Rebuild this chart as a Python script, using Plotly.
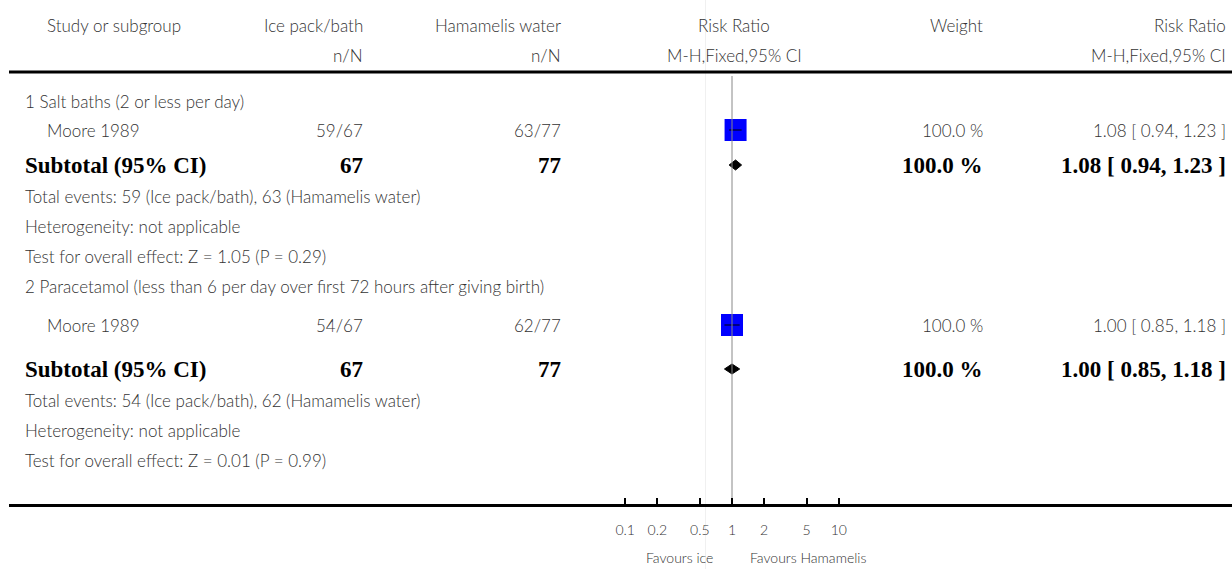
import plotly.graph_objects as go
import numpy as np

# ---------------- data ----------------
group_titles = ["1 Salt baths (2 or less per day)",
                "2 Paracetamol (less than 6 per day over first 72 hours after giving birth)"]
study_names = ["Moore 1989", "Moore 1989"]
ice_events = [59, 54]
ice_totals = [67, 67]
ham_events = [63, 62]
ham_totals = [77, 77]
rr = [1.08, 1.00]
ci_low = [0.94, 0.85]
ci_high = [1.23, 1.18]
weights = [100.0, 100.0]
z_values = ["1.05", "0.01"]
p_values = ["0.29", "0.99"]
tick_vals = [0.1, 0.2, 0.5, 1, 2, 5, 10]
tick_text = ["0.1", "0.2", "0.5", "1", "2", "5", "10"]
label_left = "Favours ice"
label_right = "Favours Hamamelis"

# ---------------- layout helpers ----------------
W, H = 1232, 569
AX_Y = 503.5          # pixel y of the bottom axis line
X_LEFT = 9            # pixel x where the axis / rules start
X_ONE = 732           # pixel x of RR = 1
DEC = 106.8           # pixels per decade
lo_log = (X_LEFT - X_ONE) / DEC
hi_log = (W - X_ONE) / DEC

# row centres (pixels from top) for each group block
group_rows = [dict(title=101, study=130, sub=165, tot=196, het=226, test=256),
              dict(title=286, study=325, sub=369, tot=400, het=430, test=460)]

REG = dict(family="Lato", size=17, color="#333333", weight=300)
BOLD = dict(family="Liberation Serif", size=23, color="#000000", weight="bold")
SMALL = dict(family="Lato", size=14, color="#333333", weight=300)

COL_STUDY = 45 / W
COL_LEFT = 23 / W
COL_ICE = 365 / W
COL_HAM = 563 / W
COL_RR = 734 / W
COL_W = 985 / W
COL_RRT = 1228 / W

fig = go.Figure()
ann = []


def txt(x, y, s, font, anchor="left"):
    ann.append(dict(x=x, y=y, xref="paper", yref="y", text=s, showarrow=False,
                    xanchor=anchor, yanchor="middle", font=font))


# header
txt(COL_STUDY, 25, "Study or subgroup", REG)
txt(COL_ICE, 25, "Ice pack/bath", REG, "right")
txt(COL_ICE, 55, "n/N", REG, "right")
txt(COL_HAM, 25, "Hamamelis water", REG, "right")
txt(COL_HAM, 55, "n/N", REG, "right")
txt(COL_RR, 25, "Risk Ratio", REG, "center")
txt(COL_RR, 55, "M-H,Fixed,95% CI", REG, "center")
txt(COL_W, 25, "Weight", REG, "right")
txt(COL_RRT, 25, "Risk Ratio", REG, "right")
txt(COL_RRT, 55, "M-H,Fixed,95% CI", REG, "right")

for i in range(len(study_names)):
    r = group_rows[i]
    txt(COL_LEFT, r["title"], group_titles[i], REG)
    txt(COL_STUDY, r["study"], study_names[i], REG)
    txt(COL_ICE, r["study"], f"{ice_events[i]}/{ice_totals[i]}", REG, "right")
    txt(COL_HAM, r["study"], f"{ham_events[i]}/{ham_totals[i]}", REG, "right")
    txt(COL_W, r["study"], f"{weights[i]:.1f} %", REG, "right")
    txt(COL_RRT, r["study"], f"{rr[i]:.2f} [ {ci_low[i]:.2f}, {ci_high[i]:.2f} ]", REG, "right")

    txt(COL_LEFT, r["sub"], "Subtotal (95% CI)", BOLD)
    txt(COL_ICE, r["sub"], f"{ice_totals[i]}", BOLD, "right")
    txt(COL_HAM, r["sub"], f"{ham_totals[i]}", BOLD, "right")
    txt(COL_W, r["sub"], f"{weights[i]:.1f} %", BOLD, "right")
    txt(COL_RRT, r["sub"], f"{rr[i]:.2f} [ {ci_low[i]:.2f}, {ci_high[i]:.2f} ]", BOLD, "right")

    txt(COL_LEFT, r["tot"], f"Total events: {ice_events[i]} (Ice pack/bath), {ham_events[i]} (Hamamelis water)", REG)
    txt(COL_LEFT, r["het"], "Heterogeneity: not applicable", REG)
    txt(COL_LEFT, r["test"], f"Test for overall effect: Z = {z_values[i]} (P = {p_values[i]})", REG)

    # study square
    fig.add_trace(go.Scatter(x=[rr[i]], y=[r["study"]], mode="markers",
                             marker=dict(symbol="square", size=22, color="#0000FF",
                                         line=dict(width=0)),
                             showlegend=False, hoverinfo="skip"))
    # CI line
    fig.add_trace(go.Scatter(x=[ci_low[i], ci_high[i]], y=[r["study"], r["study"]],
                             mode="lines", line=dict(color="#000000", width=1),
                             showlegend=False, hoverinfo="skip"))
    # subtotal diamond
    yc = r["sub"]
    fig.add_trace(go.Scatter(x=[ci_low[i], rr[i], ci_high[i], rr[i], ci_low[i]],
                             y=[yc, yc - 5, yc, yc + 5, yc], mode="lines",
                             fill="toself", fillcolor="#000000",
                             line=dict(color="#000000", width=1),
                             showlegend=False, hoverinfo="skip"))

# line of no effect
fig.add_trace(go.Scatter(x=[1, 1], y=[76, AX_Y], mode="lines",
                         line=dict(color="#888888", width=1),
                         showlegend=False, hoverinfo="skip"))

# favours labels (below the axis, paper y)
fav_y = 1 - 557 / H
ann.append(dict(x=np.log10(1) - 17 / DEC, y=fav_y, xref="x", yref="paper", text=label_left,
                showarrow=False, xanchor="right", yanchor="middle", font=SMALL))
ann.append(dict(x=np.log10(1) + 16 / DEC, y=fav_y, xref="x", yref="paper", text=label_right,
                showarrow=False, xanchor="left", yanchor="middle", font=SMALL))

shapes = [
    # header rule
    dict(type="line", xref="paper", yref="y", x0=X_LEFT / W, x1=1, y0=72, y1=72,
         line=dict(color="#000000", width=3)),
    # faint artefact line
    dict(type="line", xref="paper", yref="paper", x0=705.5 / W, x1=705.5 / W, y0=0, y1=1,
         line=dict(color="#f0f0f0", width=1), layer="below"),
]

fig.update_layout(
    width=W, height=H,
    margin=dict(l=0, r=0, t=0, b=0),
    paper_bgcolor="white", plot_bgcolor="white",
    annotations=ann, shapes=shapes,
    xaxis=dict(type="log", range=[lo_log, hi_log], domain=[X_LEFT / W, 1],
               showgrid=False, zeroline=False,
               showline=True, linecolor="#000000", linewidth=3,
               ticks="inside", ticklen=6, tickwidth=2, tickcolor="#000000",
               tickvals=tick_vals, ticktext=tick_text,
               tickfont=SMALL, ticklabelstandoff=12),
    yaxis=dict(range=[AX_Y, 0], domain=[(H - AX_Y) / H, 1], visible=False,
               showgrid=False, zeroline=False),
)

fig.write_html("out.html", config={"displayModeBar": False},
               post_script="document.body.style.margin='0';document.body.style.overflow='hidden';")
